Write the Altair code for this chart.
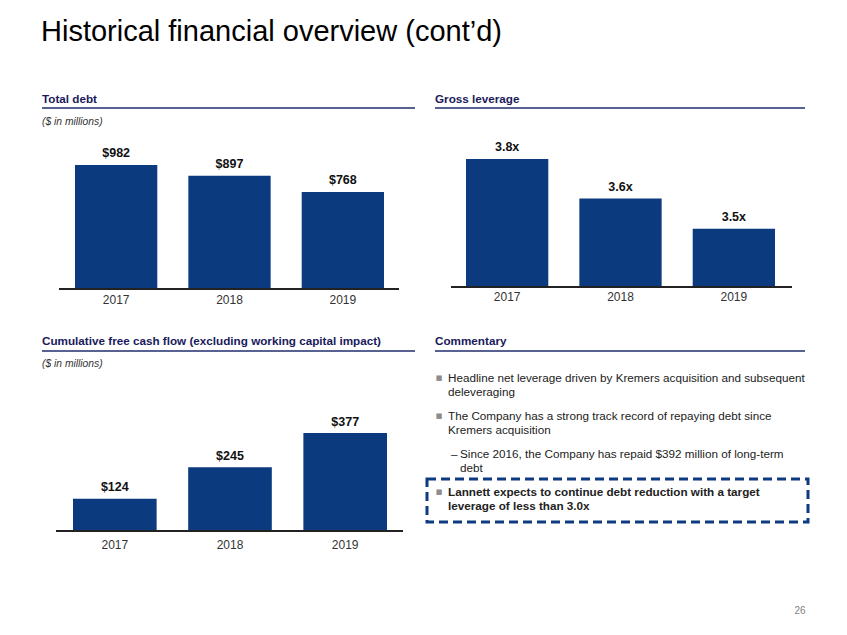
import altair as alt
import pandas as pd

# ---------------- data ----------------
years = ["2017", "2018", "2019"]
total_debt = [982, 897, 768]
total_debt_labels = ["$982", "$897", "$768"]
gross_leverage = [3.80, 3.63, 3.50]
gross_leverage_labels = ["3.8x", "3.6x", "3.5x"]
fcf = [124, 245, 377]
fcf_labels = ["$124", "$245", "$377"]

slide_title = "Historical financial overview (cont\u2019d)"
headers = ["Total debt", "Gross leverage",
           "Cumulative free cash flow (excluding working capital impact)", "Commentary"]
units = "($ in millions)"
bullet1 = ["Headline net leverage driven by Kremers acquisition and subsequent", "deleveraging"]
bullet2 = ["The Company has a strong track record of repaying debt since", "Kremers acquisition"]
sub_bullet = ["Since 2016, the Company has repaid $392 million of long-term", "debt"]
bullet3 = ["Lannett expects to continue debt reduction with a target", "leverage of less than 3.0x"]
page_number = "26"

# ---------------- style ----------------
FONT = "Liberation Sans"
BAR = "#0b3a7e"
HEAD = "#1a1a5c"
LINE = "#1f2d6e"
BODY = 11.7
O = 8  # page margin


def px(v):
    return alt.value(v - O)


one = pd.DataFrame({"a": [0]})


def txt(s, x, y, size=BODY, weight="normal", color="#222222", style="normal",
        align="left", font=FONT, baseline="middle"):
    return alt.Chart(pd.DataFrame({"t": [s]})).mark_text(
        align=align, baseline=baseline, fontSize=size, fontWeight=weight,
        fontStyle=style, color=color, font=font
    ).encode(x=px(x), y=px(y), text="t:N")


def hline(x1, x2, y, color=LINE, w=1.5):
    return alt.Chart(one).mark_rule(color=color, strokeWidth=w).encode(
        x=px(x1), x2=px(x2), y=px(y))


def panel(values, labels, xr, yr, ydom, rule_x, year_y, dy):
    df = pd.DataFrame({"year": years, "value": values, "label": labels})
    xs = alt.Scale(domain=years, range=[xr[0] - O, xr[1] - O],
                   paddingInner=0.274, paddingOuter=0)
    ys = alt.Scale(domain=ydom, range=[yr[0] - O, yr[1] - O], nice=False, zero=False)
    X = alt.X("year:N", scale=xs, axis=None)
    Y = alt.Y("value:Q", scale=ys, axis=None)
    base = alt.Chart(df)
    bars = base.mark_bar(color=BAR).encode(x=X, y=Y, y2=alt.datum(ydom[0]))
    vals = base.mark_text(fontSize=12.5, fontWeight="bold", font=FONT, color="#111111",
                          baseline="middle", dy=dy).encode(x=X, y=Y, text="label:N")
    yrs = base.mark_text(fontSize=12, font=FONT, color="#333333",
                         baseline="middle").encode(x=X, y=px(year_y), text="year:N")
    rule = alt.Chart(one).mark_rule(color="#222222", strokeWidth=2).encode(
        x=px(rule_x[0]), x2=px(rule_x[1]), y=alt.datum(ydom[0]))
    return alt.layer(bars, vals, yrs, rule)


p_debt = panel(total_debt, total_debt_labels, (75, 384), (289, 165), [0, 982],
               (59, 399), 300, -12)
p_lev = panel(gross_leverage, gross_leverage_labels, (466, 775), (287, 159), [3.25, 3.8],
              (451, 792), 297, -12)
p_fcf = panel(fcf, fcf_labels, (73, 387), (531, 433), [0, 377],
              (56, 403), 545, -11.5)

layers = [
    txt(slide_title, 41, 41, size=29, color="#000000", baseline="alphabetic"),
    txt(headers[0], 42, 99, weight="bold", color=HEAD),
    hline(42, 415, 108),
    txt(units, 42, 122, size=10.3, style="italic", color="#333333"),
    txt(headers[1], 435, 99, weight="bold", color=HEAD),
    hline(435, 805, 108),
    txt(headers[2], 42, 341, weight="bold", color=HEAD),
    hline(42, 415, 351),
    txt(units, 42, 364, size=10.3, style="italic", color="#333333"),
    txt(headers[3], 435, 341, weight="bold", color=HEAD),
    hline(435, 805, 351),
    # commentary
    txt("\u25a0", 439, 378, size=7, color="#8c8c8c", align="center", font="DejaVu Sans"),
    txt(bullet1[0], 448, 378),
    txt(bullet1[1], 448, 392),
    txt("\u25a0", 439, 416, size=7, color="#8c8c8c", align="center", font="DejaVu Sans"),
    txt(bullet2[0], 448, 416),
    txt(bullet2[1], 448, 430),
    txt("\u2013", 451, 454),
    txt(sub_bullet[0], 460, 454),
    txt(sub_bullet[1], 460, 468),
    txt("\u25a0", 439, 492, size=7, color="#8c8c8c", align="center", font="DejaVu Sans"),
    txt(bullet3[0], 448, 492, weight="bold"),
    txt(bullet3[1], 448, 506, weight="bold"),
    alt.Chart(one).mark_rect(fillOpacity=0, stroke="#0d3a80", strokeWidth=3,
                             strokeDash=[9, 5]).encode(
        x=px(427), x2=px(808), y=px(479), y2=px(522)),
    txt(page_number, 800, 611, size=10, color="#7f7f7f", align="center"),
    p_debt, p_lev, p_fcf,
]

chart = alt.layer(*layers).resolve_scale(x="independent", y="independent").properties(
    width=831, height=619, autosize=alt.AutoSizeParams(type="none"), padding=0
).configure_view(stroke=None)

chart.save("out.html", embed_options={"renderer": "svg", "actions": False})
